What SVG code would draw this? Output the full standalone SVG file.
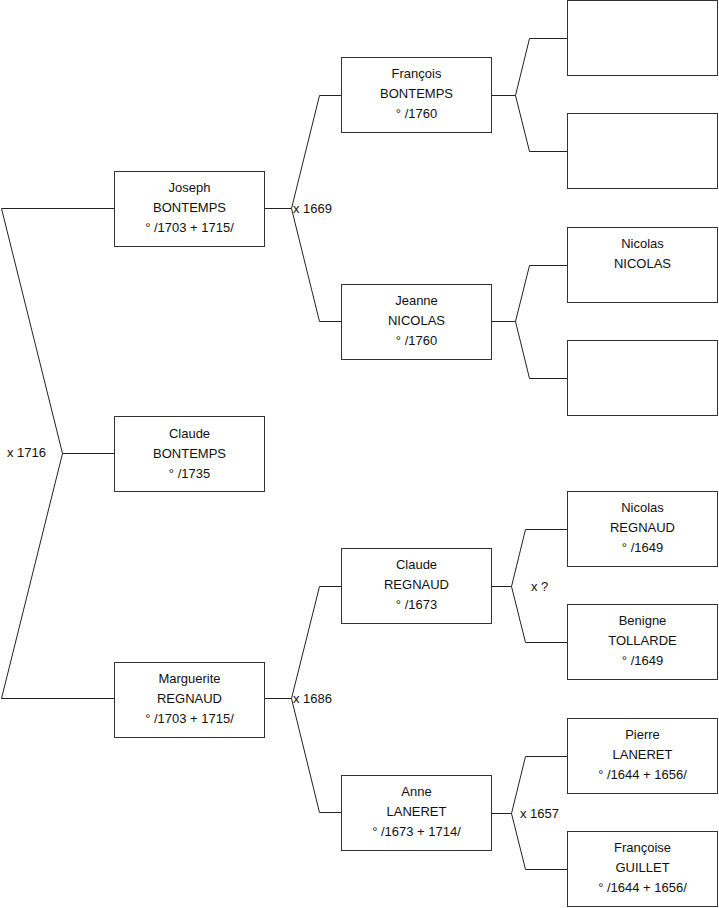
<svg xmlns="http://www.w3.org/2000/svg" width="719" height="908" viewBox="0 0 719 908">
<style>
.box{fill:#fff;stroke:#333;stroke-width:1}
.ln{fill:none;stroke:#222;stroke-width:1}
text{font-family:"Liberation Sans",Arial,sans-serif;font-size:13px;fill:#111}
.c{text-anchor:middle}
</style>
<rect width="719" height="908" fill="#fff"/>
<g id="connectors">
<path class="ln" d="M1.5,208.5 H114.5 M1.5,208.5 L62.5,453.5 H114.5 M62.5,453.5 L1.5,698.5 H114.5"/>
<path class="ln" d="M265,208.5 H291.5 L319.5,95.5 H341 M291.5,208.5 L319.5,321.5 H341"/>
<path class="ln" d="M265,698.5 H291.5 L319.5,586.5 H341 M291.5,698.5 L319.5,812.5 H341"/>
<path class="ln" d="M492,95.5 H515.5 L529.5,38.5 H567 M515.5,95.5 L529.5,151.5 H567"/>
<path class="ln" d="M492,321.5 H515.5 L529.5,265.5 H567 M515.5,321.5 L529.5,378.5 H567"/>
<path class="ln" d="M492,586.5 H511.5 L525.5,529.5 H567 M511.5,586.5 L525.5,642.5 H567"/>
<path class="ln" d="M492,813.5 H511.5 L525.5,756.5 H567 M511.5,813.5 L525.5,869.5 H567"/>
<text x="7" y="457">x 1716</text>
<text x="293" y="212.5">x 1669</text>
<text x="293" y="702.5">x 1686</text>
<text x="531" y="590.5">x ?</text>
<text x="520" y="817.5">x 1657</text>
</g>
<g id="joseph"><rect class="box" x="114.5" y="171.5" width="150" height="75"/><text class="c" x="189.5" y="191.5">Joseph</text><text class="c" x="189.5" y="211.5">BONTEMPS</text><text class="c" x="189.5" y="231.5">° /1703 + 1715/</text></g>
<g id="claude-bontemps"><rect class="box" x="114.5" y="416.5" width="150" height="75"/><text class="c" x="189.5" y="437.5">Claude</text><text class="c" x="189.5" y="457.5">BONTEMPS</text><text class="c" x="189.5" y="477.5">° /1735</text></g>
<g id="marguerite"><rect class="box" x="114.5" y="662.5" width="150" height="75"/><text class="c" x="189.5" y="682.5">Marguerite</text><text class="c" x="189.5" y="702.5">REGNAUD</text><text class="c" x="189.5" y="722.5">° /1703 + 1715/</text></g>
<g id="francois"><rect class="box" x="341.5" y="57.5" width="150" height="75"/><text class="c" x="416.5" y="77.5">François</text><text class="c" x="416.5" y="97.5">BONTEMPS</text><text class="c" x="416.5" y="117.5">° /1760</text></g>
<g id="jeanne"><rect class="box" x="341.5" y="284.5" width="150" height="75"/><text class="c" x="416.5" y="304.5">Jeanne</text><text class="c" x="416.5" y="324.5">NICOLAS</text><text class="c" x="416.5" y="344.5">° /1760</text></g>
<g id="claude-regnaud"><rect class="box" x="341.5" y="548.5" width="150" height="75"/><text class="c" x="416.5" y="568.5">Claude</text><text class="c" x="416.5" y="588.5">REGNAUD</text><text class="c" x="416.5" y="608.5">° /1673</text></g>
<g id="anne"><rect class="box" x="341.5" y="775.5" width="150" height="75"/><text class="c" x="416.5" y="795.5">Anne</text><text class="c" x="416.5" y="815.5">LANERET</text><text class="c" x="416.5" y="835.5">° /1673 + 1714/</text></g>
<g id="blank1"><rect class="box" x="567.5" y="0.5" width="150" height="75"/></g>
<g id="blank2"><rect class="box" x="567.5" y="113.5" width="150" height="75"/></g>
<g id="nicolas-nicolas"><rect class="box" x="567.5" y="227.5" width="150" height="75"/><text class="c" x="642.5" y="247.5">Nicolas</text><text class="c" x="642.5" y="267.5">NICOLAS</text></g>
<g id="blank3"><rect class="box" x="567.5" y="340.5" width="150" height="75"/></g>
<g id="nicolas-regnaud"><rect class="box" x="567.5" y="491.5" width="150" height="75"/><text class="c" x="642.5" y="511.5">Nicolas</text><text class="c" x="642.5" y="531.5">REGNAUD</text><text class="c" x="642.5" y="551.5">° /1649</text></g>
<g id="benigne"><rect class="box" x="567.5" y="604.5" width="150" height="75"/><text class="c" x="642.5" y="624.5">Benigne</text><text class="c" x="642.5" y="644.5">TOLLARDE</text><text class="c" x="642.5" y="664.5">° /1649</text></g>
<g id="pierre"><rect class="box" x="567.5" y="718.5" width="150" height="75"/><text class="c" x="642.5" y="738.5">Pierre</text><text class="c" x="642.5" y="758.5">LANERET</text><text class="c" x="642.5" y="778.5">° /1644 + 1656/</text></g>
<g id="francoise"><rect class="box" x="567.5" y="831.5" width="150" height="75"/><text class="c" x="642.5" y="851.5">Françoise</text><text class="c" x="642.5" y="871.5">GUILLET</text><text class="c" x="642.5" y="891.5">° /1644 + 1656/</text></g>
</svg>
